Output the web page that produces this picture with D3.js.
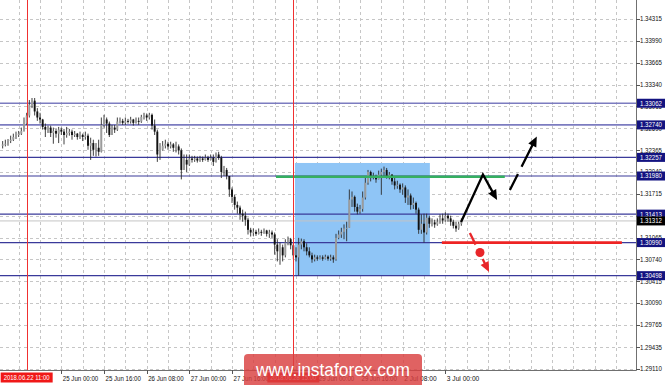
<!DOCTYPE html>
<html>
<head>
<meta charset="utf-8">
<script src="https://cdn.jsdelivr.net/npm/d3@7"></script>
<style>
  html, body { margin: 0; padding: 0; background: #fff; }
  svg { display: block; font-family: "Liberation Sans", Arial, sans-serif; }
</style>
</head>
<body>
<div id="chart"></div>
<script>
// H1 candles, open of each bar = close of the previous one
const OPEN_FIRST = 1.3243;
const CLOSE = [
  1.3245, 1.3246, 1.3250, 1.3252, 1.3256, 1.3259, 1.3261, 1.3265, 1.3276, 1.3288,
  1.3304, 1.3310, 1.3294, 1.3285, 1.3282, 1.3271, 1.3267, 1.3270, 1.3262, 1.3265,
  1.3261, 1.3267, 1.3264, 1.3259, 1.3262, 1.3264, 1.3259, 1.3261, 1.3256, 1.3259,
  1.3256, 1.3258, 1.3243, 1.3247, 1.3237, 1.3240, 1.3234, 1.3274, 1.3282, 1.3276,
  1.3259, 1.3270, 1.3267, 1.3279, 1.3280, 1.3277, 1.3280, 1.3279, 1.3282, 1.3277,
  1.3280, 1.3279, 1.3286, 1.3288, 1.3285, 1.3289, 1.3273, 1.3264, 1.3230, 1.3237,
  1.3243, 1.3246, 1.3242, 1.3245, 1.3240, 1.3242, 1.3236, 1.3207, 1.3222, 1.3215,
  1.3224, 1.3222, 1.3224, 1.3221, 1.3224, 1.3222, 1.3225, 1.3222, 1.3225, 1.3219,
  1.3230, 1.3225, 1.3204, 1.3207, 1.3198, 1.3178, 1.3167, 1.3155, 1.3151, 1.3142,
  1.3139, 1.3133, 1.3118, 1.3114, 1.3115, 1.3112, 1.3115, 1.3114, 1.3117, 1.3112,
  1.3114, 1.3111, 1.3096, 1.3086, 1.3092, 1.3080, 1.3099, 1.3104, 1.3095, 1.3080,
  1.3077, 1.3096, 1.3101, 1.3092, 1.3086, 1.3080, 1.3074, 1.3077, 1.3075, 1.3077,
  1.3075, 1.3078, 1.3075, 1.3077, 1.3074, 1.3106, 1.3111, 1.3115, 1.3120, 1.3121,
  1.3163, 1.3167, 1.3152, 1.3145, 1.3149, 1.3166, 1.3188, 1.3204, 1.3195, 1.3198,
  1.3193, 1.3200, 1.3204, 1.3207, 1.3197, 1.3200, 1.3190, 1.3184, 1.3185, 1.3178,
  1.3181, 1.3166, 1.3169, 1.3155, 1.3158, 1.3148, 1.3118, 1.3127, 1.3114, 1.3136,
  1.3127, 1.3129, 1.3126, 1.3130, 1.3135, 1.3132, 1.3139, 1.3135, 1.3130, 1.3124,
  1.3120, 1.3127, 1.3131
];
const HIGH = [
  1.3250, 1.3252, 1.3253, 1.3258, 1.3261, 1.3264, 1.3265, 1.3270, 1.3285, 1.3292,
  1.3311, 1.3314, 1.3314, 1.3299, 1.3292, 1.3283, 1.3276, 1.3273, 1.3273, 1.3270,
  1.3268, 1.3271, 1.3270, 1.3268, 1.3271, 1.3268, 1.3267, 1.3265, 1.3262, 1.3264,
  1.3261, 1.3264, 1.3261, 1.3255, 1.3252, 1.3247, 1.3252, 1.3285, 1.3289, 1.3285,
  1.3279, 1.3274, 1.3274, 1.3285, 1.3285, 1.3283, 1.3285, 1.3283, 1.3286, 1.3283,
  1.3285, 1.3285, 1.3289, 1.3292, 1.3291, 1.3292, 1.3291, 1.3282, 1.3267, 1.3247,
  1.3250, 1.3252, 1.3249, 1.3249, 1.3247, 1.3249, 1.3245, 1.3239, 1.3230, 1.3230,
  1.3230, 1.3228, 1.3228, 1.3227, 1.3228, 1.3227, 1.3230, 1.3228, 1.3230, 1.3230,
  1.3233, 1.3234, 1.3228, 1.3213, 1.3210, 1.3198, 1.3181, 1.3170, 1.3160, 1.3154,
  1.3148, 1.3145, 1.3136, 1.3121, 1.3120, 1.3118, 1.3120, 1.3118, 1.3120, 1.3118,
  1.3118, 1.3117, 1.3114, 1.3104, 1.3099, 1.3096, 1.3104, 1.3108, 1.3106, 1.3098,
  1.3092, 1.3106, 1.3105, 1.3104, 1.3098, 1.3092, 1.3084, 1.3081, 1.3080, 1.3080,
  1.3080, 1.3081, 1.3080, 1.3081, 1.3080, 1.3112, 1.3117, 1.3121, 1.3126, 1.3130,
  1.3178, 1.3175, 1.3169, 1.3157, 1.3155, 1.3175, 1.3195, 1.3207, 1.3206, 1.3203,
  1.3200, 1.3206, 1.3209, 1.3212, 1.3210, 1.3204, 1.3201, 1.3195, 1.3191, 1.3187,
  1.3187, 1.3184, 1.3178, 1.3172, 1.3166, 1.3160, 1.3151, 1.3141, 1.3142, 1.3142,
  1.3139, 1.3135, 1.3133, 1.3135, 1.3141, 1.3142, 1.3144, 1.3142, 1.3139, 1.3133,
  1.3130, 1.3130, 1.3135
];
const LOW = [
  1.3239, 1.3242, 1.3243, 1.3247, 1.3250, 1.3253, 1.3256, 1.3259, 1.3264, 1.3274,
  1.3285, 1.3299, 1.3288, 1.3280, 1.3276, 1.3267, 1.3256, 1.3262, 1.3256, 1.3246,
  1.3255, 1.3247, 1.3259, 1.3245, 1.3255, 1.3258, 1.3252, 1.3256, 1.3252, 1.3253,
  1.3250, 1.3252, 1.3237, 1.3222, 1.3228, 1.3227, 1.3228, 1.3233, 1.3270, 1.3262,
  1.3256, 1.3264, 1.3262, 1.3265, 1.3276, 1.3274, 1.3274, 1.3276, 1.3276, 1.3273,
  1.3276, 1.3274, 1.3277, 1.3282, 1.3280, 1.3282, 1.3267, 1.3259, 1.3219, 1.3222,
  1.3236, 1.3239, 1.3237, 1.3239, 1.3234, 1.3233, 1.3230, 1.3193, 1.3210, 1.3204,
  1.3213, 1.3218, 1.3219, 1.3218, 1.3219, 1.3219, 1.3221, 1.3219, 1.3221, 1.3213,
  1.3218, 1.3222, 1.3195, 1.3198, 1.3193, 1.3167, 1.3158, 1.3148, 1.3142, 1.3133,
  1.3130, 1.3124, 1.3111, 1.3108, 1.3109, 1.3109, 1.3111, 1.3109, 1.3112, 1.3108,
  1.3106, 1.3106, 1.3081, 1.3071, 1.3066, 1.3071, 1.3077, 1.3095, 1.3089, 1.3074,
  1.3071, 1.3050, 1.3089, 1.3086, 1.3080, 1.3077, 1.3069, 1.3071, 1.3072, 1.3074,
  1.3072, 1.3074, 1.3072, 1.3072, 1.3069, 1.3072, 1.3104, 1.3106, 1.3104, 1.3101,
  1.3124, 1.3152, 1.3145, 1.3141, 1.3142, 1.3145, 1.3163, 1.3185, 1.3190, 1.3193,
  1.3188, 1.3193, 1.3170, 1.3198, 1.3194, 1.3193, 1.3185, 1.3178, 1.3179, 1.3173,
  1.3170, 1.3158, 1.3155, 1.3148, 1.3149, 1.3142, 1.3112, 1.3112, 1.3099, 1.3111,
  1.3121, 1.3123, 1.3121, 1.3124, 1.3127, 1.3127, 1.3130, 1.3130, 1.3124, 1.3120,
  1.3115, 1.3118, 1.3124
];

const PRICE_TICKS = [1.34315, 1.33990, 1.33665, 1.33340, 1.33015, 1.32690, 1.32365, 1.32040,
  1.31715, 1.31390, 1.31065, 1.30740, 1.30415, 1.30090, 1.29765, 1.29435, 1.29110];
const LEVELS = [1.33062, 1.32740, 1.32257, 1.31980, 1.31413, 1.30990, 1.30498];
const CURRENT_PRICE = 1.31312;

// bar index of each time label
const TIME_TICKS = [
  [22, "25 Jun 00:00"], [38, "25 Jun 16:00"], [54, "26 Jun 08:00"], [70, "27 Jun 00:00"],
  [86, "27 Jun 16:00"], [102, "28 Jun 08:00"], [118, "29 Jun 00:00"], [134, "29 Jun 16:00"],
  [150, "2 Jul 08:00"], [166, "3 Jul 00:00"]
];
const MARKERS = [[9, "2018.06.22 11:00"], [109, "2018.06.28 15:00"]];

// drawn objects, in bar index / price
const ZONE = [109.6, 160.2, 1.32174, 1.30498];
const GREEN_LINE = [102.5, 188.3, 1.3197];
const RED_LINE = [164.7, 232.2, 1.3099];
const UP_PATH = [[171.9, 1.31296], [180.1, 1.32003], [185.4, 1.31623]];
const BREAK_PATH = [[190.2, 1.31772], [200.3, 1.32568]];
const DROP_PATH = [[175.2, 1.31133], [182.4, 1.30553]];
const DROP_DOT = [179, 1.30843];

const W = 665, H = 385;
const plotR = 636, plotB = 370;

const svg = d3.select("#chart").append("svg").attr("width", W).attr("height", H);

const x = d3.scaleLinear().domain([-1, 237.5]).range([0, plotR]);
const y = d3.scaleLinear().domain([1.29110, 1.34315]).range([369, 19]);

const candles = CLOSE.map((c, i) => ({
  i, open: i ? CLOSE[i - 1] : OPEN_FIRST, close: c, high: HIGH[i], low: LOW[i]
}));

// grid
const grid = svg.append("g").attr("stroke", "#c6c6c6").attr("stroke-dasharray", "3,3");
grid.selectAll("line.h")
  .data(PRICE_TICKS)
  .join("line")
  .attr("x1", 0).attr("x2", plotR)
  .attr("y1", d => Math.round(y(d)) + 0.5).attr("y2", d => Math.round(y(d)) + 0.5);
grid.selectAll("line.v")
  .data(d3.range(6, 238, 8))
  .join("line")
  .attr("class", "v")
  .attr("x1", d => Math.round(x(d)) + 0.5).attr("x2", d => Math.round(x(d)) + 0.5)
  .attr("y1", 0).attr("y2", plotB);

// analysis zone
svg.append("rect")
  .attr("x", x(ZONE[0])).attr("y", y(ZONE[2]))
  .attr("width", x(ZONE[1]) - x(ZONE[0]))
  .attr("height", y(ZONE[3]) - y(ZONE[2]))
  .attr("fill", "#8fc5f6");

// horizontal levels
svg.append("g").selectAll("line")
  .data(LEVELS)
  .join("line")
  .attr("x1", 0).attr("x2", plotR)
  .attr("y1", d => y(d)).attr("y2", d => y(d))
  .attr("stroke", (d, k) => k < 2 ? "#7c7cc0" : "#3a3a9a")
  .attr("stroke-width", (d, k) => k < 2 ? 1.6 : 1.2);

svg.append("line")
  .attr("x1", 0).attr("x2", plotR)
  .attr("y1", y(CURRENT_PRICE)).attr("y2", y(CURRENT_PRICE))
  .attr("stroke", "#c4c4c4").attr("stroke-width", 1);

// candles
const cg = svg.append("g");
cg.selectAll("line")
  .data(candles)
  .join("line")
  .attr("x1", d => x(d.i)).attr("x2", d => x(d.i))
  .attr("y1", d => y(Math.max(d.high, d.open, d.close)))
  .attr("y2", d => y(Math.min(d.low, d.open, d.close)))
  .attr("stroke", "#2a2a2a").attr("stroke-width", 0.9);
cg.selectAll("rect")
  .data(candles)
  .join("rect")
  .attr("x", d => x(d.i) - 0.95)
  .attr("width", 1.9)
  .attr("y", d => y(Math.max(d.open, d.close)))
  .attr("height", d => Math.max(1, Math.abs(y(d.open) - y(d.close))))
  .attr("fill", d => d.close > d.open ? "#9c9c9c" : "#111");

// green and red lines
svg.append("line")
  .attr("x1", x(GREEN_LINE[0])).attr("x2", x(GREEN_LINE[1]))
  .attr("y1", y(GREEN_LINE[2])).attr("y2", y(GREEN_LINE[2]))
  .attr("stroke", "#35b060").attr("stroke-width", 2.6);
svg.append("line")
  .attr("x1", x(RED_LINE[0])).attr("x2", x(RED_LINE[1]))
  .attr("y1", y(RED_LINE[2])).attr("y2", y(RED_LINE[2]))
  .attr("stroke", "#ee2424").attr("stroke-width", 2.6);

function arrow(points, color, dash) {
  const px = points.map(p => [x(p[0]), y(p[1])]);
  const tip = px[px.length - 1], prev = px[px.length - 2];
  const dx = tip[0] - prev[0], dy = tip[1] - prev[1];
  const len = Math.hypot(dx, dy), ux = dx / len, uy = dy / len;
  const L = 10, hw = 4.5;
  const base = [tip[0] - ux * L, tip[1] - uy * L];
  const line = px.slice(0, -1).concat([[base[0] + ux * 1, base[1] + uy * 1]]);
  svg.append("path")
    .attr("d", d3.line()(line))
    .attr("fill", "none").attr("stroke", color).attr("stroke-width", 2.3)
    .attr("stroke-dasharray", dash || null);
  svg.append("path")
    .attr("d", d3.line()([tip, [base[0] - uy * hw, base[1] + ux * hw], [base[0] + uy * hw, base[1] - ux * hw]]) + "Z")
    .attr("fill", color);
}

arrow(UP_PATH, "#000");
arrow(BREAK_PATH, "#000", "18,8,200");
arrow(DROP_PATH, "#e8262a", "13,16,200");
svg.append("circle")
  .attr("cx", x(DROP_DOT[0])).attr("cy", y(DROP_DOT[1])).attr("r", 4.5)
  .attr("fill", "#e8262a");

// marker lines
svg.append("g").selectAll("line")
  .data(MARKERS)
  .join("line")
  .attr("x1", d => Math.round(x(d[0])) + 0.5).attr("x2", d => Math.round(x(d[0])) + 0.5)
  .attr("y1", 0).attr("y2", plotB)
  .attr("stroke", "#f03030").attr("stroke-width", 1);

// axes
svg.append("line").attr("x1", plotR + 0.5).attr("x2", plotR + 0.5).attr("y1", 0).attr("y2", plotB + 0.5)
  .attr("stroke", "#707070");
svg.append("line").attr("x1", 0).attr("x2", plotR + 0.5).attr("y1", plotB + 0.5).attr("y2", plotB + 0.5)
  .attr("stroke", "#707070");

// plain price labels, except those fully covered by a level box
const visibleTicks = PRICE_TICKS.filter(t =>
  !LEVELS.concat([CURRENT_PRICE]).some(v => Math.abs(y(v) - y(t)) < 2.5));

const pa = svg.append("g");
pa.selectAll("line")
  .data(PRICE_TICKS)
  .join("line")
  .attr("x1", plotR).attr("x2", plotR + 4)
  .attr("y1", d => Math.round(y(d)) + 0.5).attr("y2", d => Math.round(y(d)) + 0.5)
  .attr("stroke", "#555");
pa.selectAll("text")
  .data(visibleTicks)
  .join("text")
  .attr("x", 640).attr("y", d => y(d)).attr("dy", "0.35em")
  .attr("font-size", 6.8).attr("textLength", 22).attr("lengthAdjust", "spacingAndGlyphs")
  .attr("fill", "#111")
  .text(d => d3.format(".5f")(d));

// level price boxes
const lb = svg.append("g").selectAll("g")
  .data(LEVELS.map(v => [v, "#131380"]).concat([[CURRENT_PRICE, "#000"]]))
  .join("g");
lb.append("rect")
  .attr("x", 637).attr("y", d => y(d[0]) - 4.5).attr("width", 28).attr("height", 9)
  .attr("fill", d => d[1]);
lb.append("text")
  .attr("x", 640).attr("y", d => y(d[0])).attr("dy", "0.35em")
  .attr("font-size", 6.8).attr("textLength", 22).attr("lengthAdjust", "spacingAndGlyphs")
  .attr("fill", "#fff")
  .text(d => d3.format(".5f")(d[0]));

// time axis, labels hidden under a marker box are left out
const visibleTimes = TIME_TICKS.filter(t =>
  !MARKERS.some(m => Math.abs(x(m[0]) - x(t[0])) < 22));

const ta = svg.append("g");
ta.selectAll("line")
  .data(TIME_TICKS)
  .join("line")
  .attr("x1", d => Math.round(x(d[0])) + 0.5).attr("x2", d => Math.round(x(d[0])) + 0.5)
  .attr("y1", plotB).attr("y2", plotB + 4)
  .attr("stroke", "#555");
ta.selectAll("text")
  .data(visibleTimes)
  .join("text")
  .attr("x", d => x(d[0]) + 1.5).attr("y", 380.5)
  .attr("font-size", 6.8)
  .attr("textLength", d => d[1].length * 2.95).attr("lengthAdjust", "spacingAndGlyphs")
  .attr("fill", "#111")
  .text(d => d[1]);

const mk = svg.append("g").selectAll("g").data(MARKERS).join("g");
mk.append("rect")
  .attr("x", d => x(d[0]) - 26).attr("y", 372.5).attr("width", 52).attr("height", 10)
  .attr("fill", "#f01818");
mk.append("text")
  .attr("x", d => x(d[0])).attr("y", 380.3).attr("text-anchor", "middle")
  .attr("font-size", 6.8).attr("textLength", 46).attr("lengthAdjust", "spacingAndGlyphs")
  .attr("fill", "#fff")
  .text(d => d[1]);

// watermark
svg.append("rect")
  .attr("x", 244).attr("y", 354).attr("width", 178).attr("height", 40).attr("rx", 4)
  .attr("fill", "#d94040").attr("opacity", 0.82);
svg.append("text")
  .attr("x", 333).attr("y", 376).attr("text-anchor", "middle")
  .attr("font-size", 18).attr("textLength", 154).attr("lengthAdjust", "spacingAndGlyphs")
  .attr("fill", "#fff")
  .text("www.instaforex.com");
</script>
</body>
</html>
